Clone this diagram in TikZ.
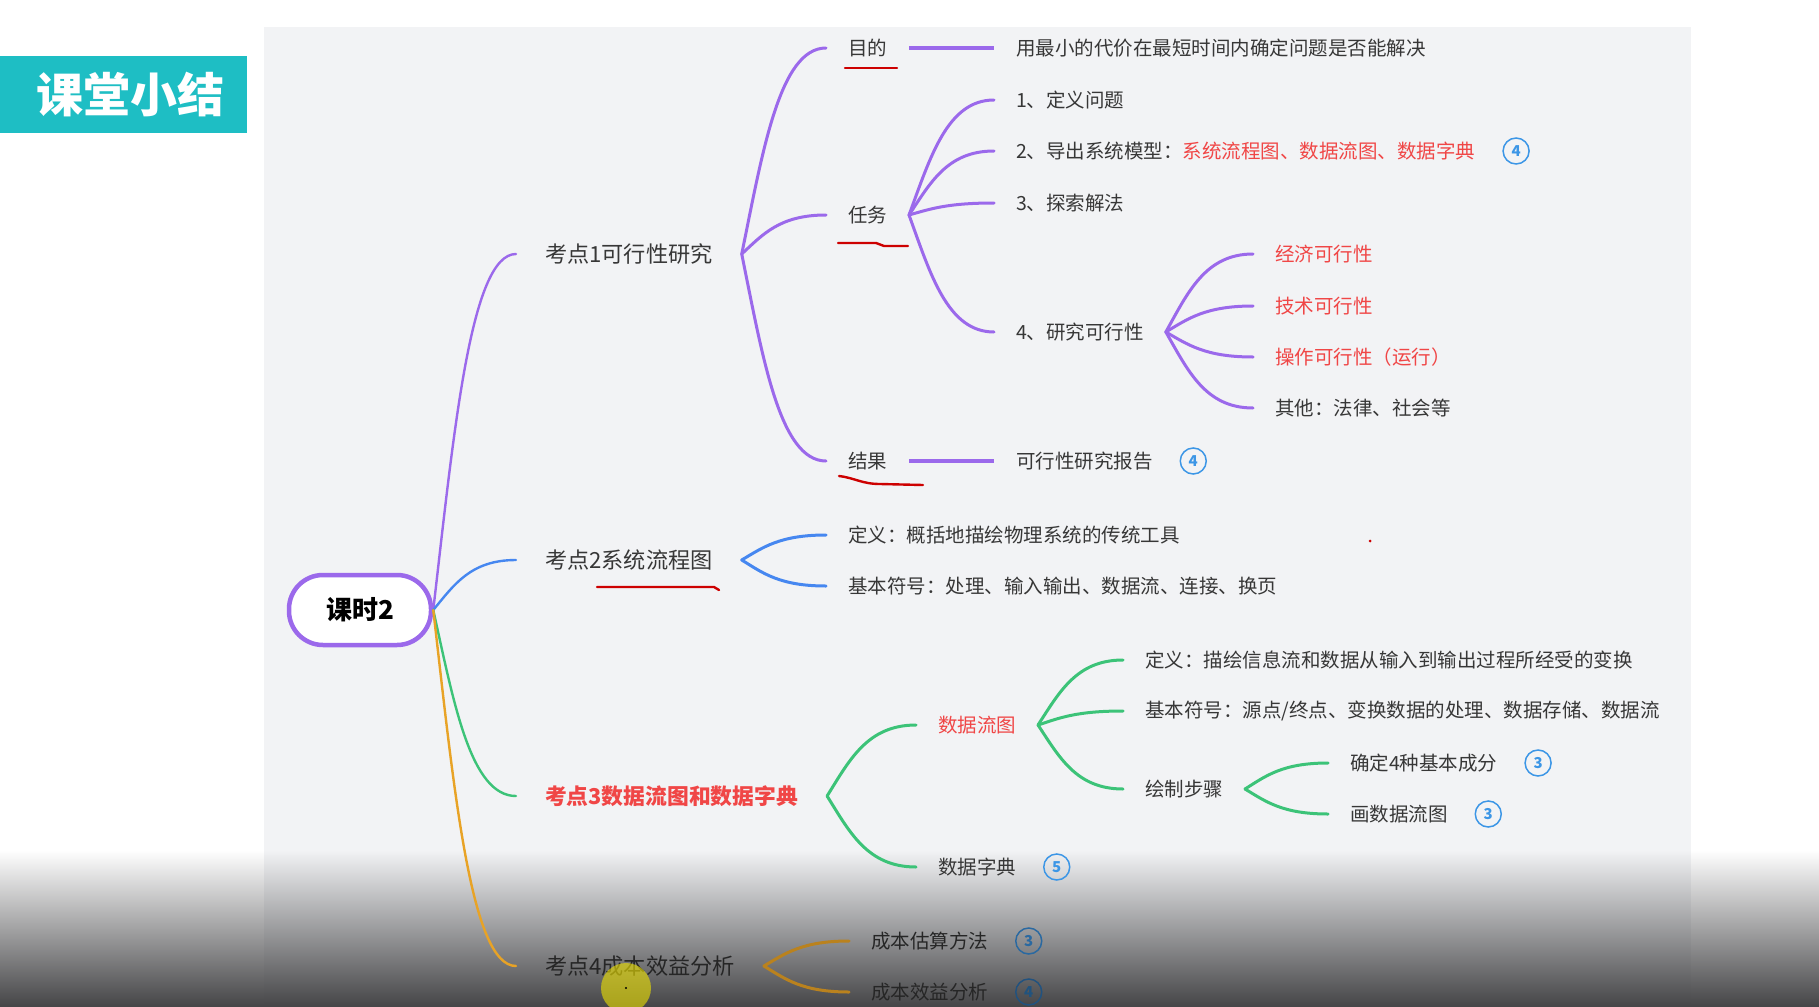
\documentclass[tikz,border=0pt]{standalone}
\usepackage{fontspec}
\newfontfamily\cjk{Noto Sans CJK SC}
\usetikzlibrary{calc,positioning}
\definecolor{pur}{RGB}{155,105,235}
\definecolor{blu}{RGB}{70,135,240}
\definecolor{grn}{RGB}{60,195,120}
\definecolor{org}{RGB}{232,163,38}
\definecolor{rd}{RGB}{240,70,70}
\definecolor{ulred}{RGB}{205,0,0}
\definecolor{txt}{RGB}{55,55,55}
\definecolor{bdg}{RGB}{60,150,230}
\definecolor{panel}{RGB}{242,243,245}
\definecolor{banner}{RGB}{30,190,196}
\definecolor{fadebot}{RGB}{70,70,72}
\definecolor{fademid}{RGB}{196,196,198}

\begin{document}
\begin{tikzpicture}[x=1pt,y=-1pt]
\tikzstyle{lv1}=[anchor=west,inner sep=0pt,outer xsep=29pt,font=\cjk\fontsize{22.2}{25}\selectfont,text=txt]
\tikzstyle{lv}=[anchor=west,inner sep=0pt,outer xsep=22pt,font=\cjk\fontsize{19.5}{22}\selectfont,text=txt]
\tikzstyle{badge}=[circle,draw=bdg,line width=1.5pt,minimum size=26pt,inner sep=0pt,text=bdg,font=\cjk\bfseries\fontsize{15}{15}\selectfont]
\tikzstyle{br}=[line width=3pt,line cap=round,to path={let \p1=(\tikztostart),\p2=(\tikztotarget) in .. controls ({\x1+0.25*(\x2-\x1)},{\y1+0.5*(\y2-\y1)}) and ({\x1+0.45*(\x2-\x1)},\y2) .. (\tikztotarget)}]
\tikzstyle{ul}=[draw=ulred,line width=2.4pt,line cap=round]
% background, video fade and title
\useasboundingbox (0,0) rectangle (1819,1006);
\fill[white] (0,0) rectangle (1819,1006);
\fill[panel] (264,27) rectangle (1691,1006);
\shade[top color=white,middle color=fademid!45!white,bottom color=fadebot] (0,850) rectangle (264,1006);
\shade[top color=panel,middle color=fademid!45!panel,bottom color=fadebot] (264,850) rectangle (1691,1006);
\shade[top color=white,middle color=fademid!45!white,bottom color=fadebot] (1691,850) rectangle (1819,1006);
\fill[banner] (0,56) rectangle (247,133);
\node[inner sep=0pt,text=white,font=\cjk\bfseries\fontsize{47}{47}\selectfont] (title) at (130,94) {课堂小结};
% root and level 1
\node[draw=pur,line width=4.5pt,fill=white,rounded corners=34pt,minimum width=142pt,minimum height=70pt,font=\cjk\bfseries\fontsize{26}{26}\selectfont] (root) at (360,610) {课时2};
\node[lv1] (t1) at (516,254) {考点1可行性研究};
\node[lv1] (t2) at (516,560) {考点2系统流程图};
\node[lv1,text=rd,font=\cjk\bfseries\fontsize{21.8}{25}\selectfont] (t3) at (516,796) {考点3数据流图和数据字典};
\node[lv1,text=black!85] (t4) at (516,966) {考点4成本效益分析};
% feasibility study
\node[lv] (aim) at (826,48) {目的};
\node[lv] (task) at (826,215) {任务};
\node[lv] (res) at (826,461) {结果};
\node[lv] (aimtxt) at (994,48) {用最小的代价在最短时间内确定问题是否能解决};
\node[lv] (q1) at (994,100) {1、定义问题};
\node[lv] (q2) at (994,151) {2、导出系统模型：\textcolor{rd}{系统流程图、数据流图、数据字典}};
\node[lv] (q3) at (994,203) {3、探索解法};
\node[lv] (q4) at (994,332) {4、研究可行性};
\node[lv,text=rd] (f1) at (1253,254) {经济可行性};
\node[lv,text=rd] (f2) at (1253,306) {技术可行性};
\node[lv,text=rd] (f3) at (1253,357) {操作可行性（运行）};
\node[lv] (f4) at (1253,408) {其他：法律、社会等};
\node[lv] (restxt) at (994,461) {可行性研究报告};
% system flowchart
\node[lv] (s1) at (826,535) {定义：概括地描绘物理系统的传统工具};
\node[lv] (s2) at (826,586) {基本符号：处理、输入输出、数据流、连接、换页};
% data flow diagram and dictionary
\node[lv,text=rd] (dfd) at (916,725) {数据流图};
\node[lv] (dd) at (916,867) {数据字典};
\node[lv] (d1) at (1123,660) {定义：描绘信息流和数据从输入到输出过程所经受的变换};
\node[lv] (d2) at (1123,711) {基本符号：源点/终点、变换数据的处理、数据存储、数据流};
\node[lv] (d3) at (1123,789) {绘制步骤};
\node[lv] (p1) at (1328,763) {确定4种基本成分};
\node[lv] (p2) at (1328,814) {画数据流图};
% cost benefit
\node[lv,text=black!85] (c1) at (849,941) {成本估算方法};
\node[lv,text=black!85] (c2) at (849,992) {成本效益分析};
% badges
\node[badge,right=5pt of q2] (b1) {4};
\node[badge,right=5pt of restxt] (b2) {4};
\node[badge,right=5pt of dd] (b3) {5};
\node[badge,right=5pt of p1] (b4) {3};
\node[badge,right=5pt of p2] (b5) {3};
\node[badge,right=5pt of c1,draw=bdg!70!black,text=bdg!70!black] (b6) {3};
\node[badge,right=5pt of c2,draw=bdg!55!black,text=bdg!55!black] (b7) {4};
% branches
\foreach \a/\c in {t1/pur,t2/blu,t3/grn,t4/org} \draw[br,\c,line width=2.4pt] (root.east) to (\a.west);
\foreach \a/\b in {t1/aim,t1/task,t1/res,task/q1,task/q2,task/q3,task/q4,q4/f1,q4/f2,q4/f3,q4/f4} \draw[br,pur] (\a.east) to (\b.west);
\draw[pur,line width=3.5pt] (aim.east) -- (aimtxt.west);
\draw[pur,line width=3.5pt] (res.east) -- (restxt.west);
\foreach \a/\b in {t2/s1,t2/s2} \draw[br,blu] (\a.east) to (\b.west);
\foreach \a/\b in {t3/dfd,t3/dd,dfd/d1,dfd/d2,dfd/d3,d3/p1,d3/p2} \draw[br,grn] (\a.east) to (\b.west);
\foreach \a/\b in {t4/c1,t4/c2} \draw[br,org!80!black] (\a.east) to (\b.west);
% pen marks
\draw[ul] (845,68) -- (897,68);
\draw[ul] (838,243) -- (876,243) -- (884,246) -- (908,246);
\draw[ul] (839,476) .. controls (855,478) and (862,484) .. (880,484) -- (923,485);
\draw[ul] (597,587) -- (714,587) -- (719,590);
\fill[ulred] (1370,541) circle (1.5);
\fill[yellow!85!olive,opacity=.6] (626,988) circle (25);
\fill[black] (626,988) circle (1.2);
\end{tikzpicture}
\end{document}
